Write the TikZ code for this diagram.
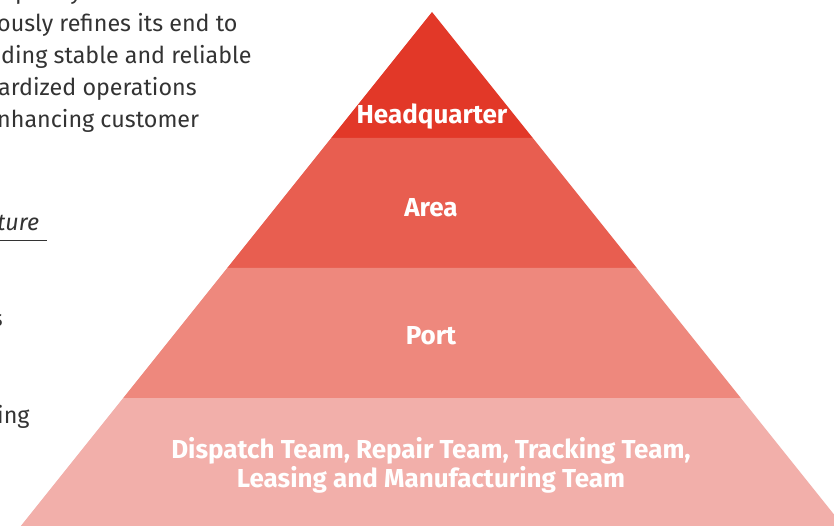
\documentclass[tikz,border=0pt]{standalone}
\usepackage{fontspec}
\setmainfont{Fira Sans}
\definecolor{hqred}{RGB}{226,56,40}
\definecolor{areared}{RGB}{232,94,80}
\definecolor{portred}{RGB}{238,136,125}
\definecolor{teamred}{RGB}{242,175,170}
\definecolor{bodytext}{RGB}{51,51,51}
\tikzset{
  band/.style={draw=none},
  lvl/.style={text=white,font=\fontsize{26}{29.5}\selectfont\bfseries,align=center,inner sep=0pt},
  body/.style={text=bodytext,font=\fontsize{23.3}{32}\selectfont,inner sep=0pt,anchor=base west},
}
\begin{document}
\begin{tikzpicture}[x=1pt,y=-1pt]
\useasboundingbox (0,0) rectangle (834,526);
\clip (0,0) rectangle (834,526);
\fill[white] (0,0) rectangle (834,526);
% pyramid bands
\coordinate (apex) at (432,12);
\fill[band,fill=hqred] (apex) -- (532.8,138) -- (331.2,138) -- cycle;
\fill[band,fill=areared] (331.2,138) -- (532.8,138) -- (636.8,268) -- (227.2,268) -- cycle;
\fill[band,fill=portred] (227.2,268) -- (636.8,268) -- (740.8,398) -- (123.2,398) -- cycle;
\fill[band,fill=teamred] (123.2,398) -- (740.8,398) -- (854.4,540) -- (9.6,540) -- cycle;
% labels
\node[lvl] (hq) at (432,117) {Headquarter};
\node[lvl] (area) at (431,207.5) {Area};
\node[lvl] (port) at (431,335.5) {Port};
\node[lvl] (team) at (431,465.5) {Dispatch Team, Repair Team, Tracking Team,\\Leasing and Manufacturing Team};
% cropped body text on the left
\node[body] (t0a) at (-7,0) {y};
\node[body] (t0b) at (15,0) {p};
\node[body] (t0c) at (70,0) {y};
\node[body] (t1) at (-3,32) {ously refines its end to};
\node[body] (t2) at (1,64) {ding stable and reliable};
\node[body] (t3) at (-2,96) {ardized operations};
\node[body] (t4) at (-3,128) {nhancing customer};
\node[body,font=\fontsize{23.3}{32}\selectfont\itshape] (t5) at (-3,231) {ture};
\draw[bodytext,line width=0.8pt] (0,240) -- (47,240);
\node[body,anchor=base east] (t6) at (3,326) {s};
\node[body] (t7) at (-3,423) {ing};
\end{tikzpicture}
\end{document}
